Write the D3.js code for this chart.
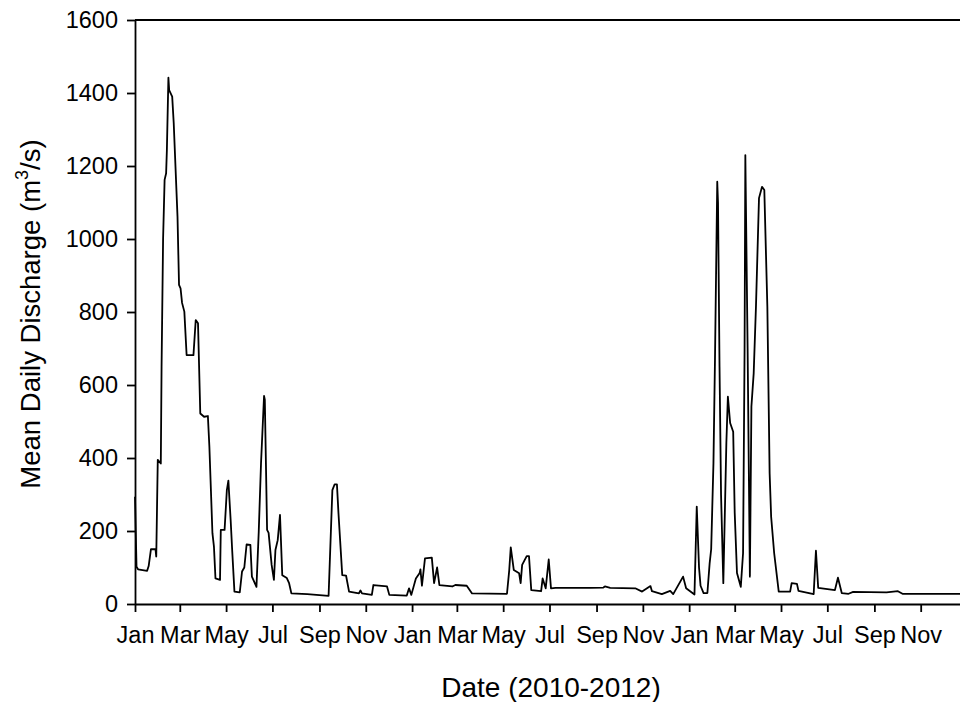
<!DOCTYPE html>
<html>
<head>
<meta charset="utf-8">
<script src="https://cdn.jsdelivr.net/npm/d3@7"></script>
<style>
  body { margin: 0; background: #fff; }
  svg { display: block; font-family: "Liberation Sans", Arial, sans-serif; }
  .axis path, .axis line { stroke: #000; stroke-width: 1.8; }
  .axis text { fill: #000; font-size: 23.5px; font-family: "Liberation Sans", Arial, sans-serif; }
</style>
</head>
<body>
<script>
// days since 1 Jan 2010 and mean daily discharge (m3/s)
var dayOffset = [0, 2, 4, 16, 18, 21, 27, 28, 30, 34, 35, 37, 39, 41, 42, 44, 45, 49, 51, 56, 58, 60, 62, 65, 68, 77, 80, 83,
  86, 91, 96, 98, 102, 104, 106, 112, 113, 118, 121, 123, 126, 128, 131, 138, 141, 144, 147, 152, 154, 160, 163, 166,
  170, 171, 174, 176, 180, 183, 185, 188, 191, 194, 200, 203, 206, 227, 255, 260, 263, 266, 268, 273, 278, 282, 295,
  297, 299, 312, 314, 332, 335, 358, 361, 364, 370, 375, 376, 378, 382, 391, 394, 398, 401, 418, 422, 437, 444, 490,
  493, 495, 499, 506, 508, 510, 516, 519, 522, 535, 537, 541, 545, 548, 554, 576, 600, 617, 619, 626, 659, 668, 679,
  681, 694, 705, 709, 722, 726, 737, 740, 743, 745, 749, 754, 757, 759, 762, 764, 767, 768, 770, 772, 775, 779, 781,
  784, 788, 790, 793, 798, 801, 803, 804, 807, 810, 812, 815, 818, 822, 826, 829, 833, 836, 838, 842, 848, 863, 865,
  872, 874, 894, 897, 900, 922, 926, 931, 940, 946, 990, 1005, 1011, 1096];
var discharge = [294, 102, 95, 91, 104, 150, 150, 130, 395, 385, 650, 1000, 1162, 1180, 1244, 1442, 1408, 1390, 1318, 1061, 874, 865, 825, 801, 682, 682, 778, 769,
  522, 513, 515, 430, 194, 157, 70, 66, 203, 203, 312, 338, 230, 148, 34, 32, 89, 100, 163, 162, 75, 47, 198, 385,
  570, 560, 203, 195, 107, 66, 148, 175, 244, 79, 71, 57, 29, 27, 22, 312, 328, 328, 250, 79, 78, 34, 29,
  37, 29, 25, 52, 48, 25, 23, 43, 25, 70, 85, 95, 50, 125, 127, 57, 100, 52, 48, 52, 50, 29, 28,
  93, 155, 93, 84, 57, 107, 131, 131, 38, 35, 70, 43, 122, 43, 44, 44, 44, 45, 48, 44, 43, 34, 49,
  35, 27, 36, 27, 75, 43, 26, 267, 100, 50, 30, 30, 112, 150, 386, 668, 1157, 1100, 650, 300, 57, 441, 568,
  496, 472, 250, 85, 47, 139, 696, 1230, 700, 75, 541, 632, 815, 1112, 1143, 1134, 815, 358, 239, 139, 34, 34, 57,
  55, 36, 27, 146, 44, 38, 72, 30, 28, 33, 32, 35, 28, 28];

var yTicks = [0, 200, 400, 600, 800, 1000, 1200, 1400, 1600];

var margin = { top: 20, left: 135 },
    width = 832,
    height = 584;

var start = new Date(2010, 0, 1),
    end = new Date(2013, 0, 1);

var data = dayOffset.map(function(d, i) {
  return { date: d3.timeDay.offset(start, d), value: discharge[i] };
});

var x = d3.scaleTime().domain([start, end]).range([0, width]);
var y = d3.scaleLinear().domain([0, 1600]).range([height, 0]);

var svg = d3.select('body').append('svg')
  .attr('width', 960)
  .attr('height', 702);

var g = svg.append('g')
  .attr('transform', 'translate(' + margin.left + ',' + margin.top + ')');

// top frame line
g.append('line')
  .attr('x1', 0).attr('x2', width)
  .attr('y1', 0).attr('y2', 0)
  .attr('stroke', '#000')
  .attr('stroke-width', 1.8);

g.append('g')
  .attr('class', 'axis')
  .call(d3.axisLeft(y)
    .tickValues(yTicks)
    .tickFormat(d3.format('d'))
    .tickSize(8)
    .tickPadding(9)
    .tickSizeOuter(0));

g.append('g')
  .attr('class', 'axis')
  .attr('transform', 'translate(0,' + height + ')')
  .call(d3.axisBottom(x)
    .tickValues(d3.timeMonth.range(start, end, 2))
    .tickFormat(d3.timeFormat('%b'))
    .tickSize(8)
    .tickPadding(14)
    .tickSizeOuter(0));

var line = d3.line()
  .x(function(d) { return x(d.date); })
  .y(function(d) { return y(d.value); });

g.append('path')
  .datum(data)
  .attr('d', line)
  .attr('fill', 'none')
  .attr('stroke', '#000')
  .attr('stroke-width', 1.8)
  .attr('stroke-linejoin', 'round');

// axis titles
svg.append('text')
  .attr('x', 551)
  .attr('y', 697)
  .attr('text-anchor', 'middle')
  .style('font-size', '28px')
  .text('Date (2010-2012)');

var yTitle = svg.append('text')
  .attr('transform', 'translate(40,' + (margin.top + height / 2 + 2) + ') rotate(-90)')
  .attr('text-anchor', 'middle')
  .style('font-size', '27.5px');
yTitle.append('tspan').text('Mean Daily Discharge (m');
yTitle.append('tspan').attr('dy', -12).style('font-size', '18px').text('3');
yTitle.append('tspan').attr('dy', 12).text('/s)');
</script>
</body>
</html>
